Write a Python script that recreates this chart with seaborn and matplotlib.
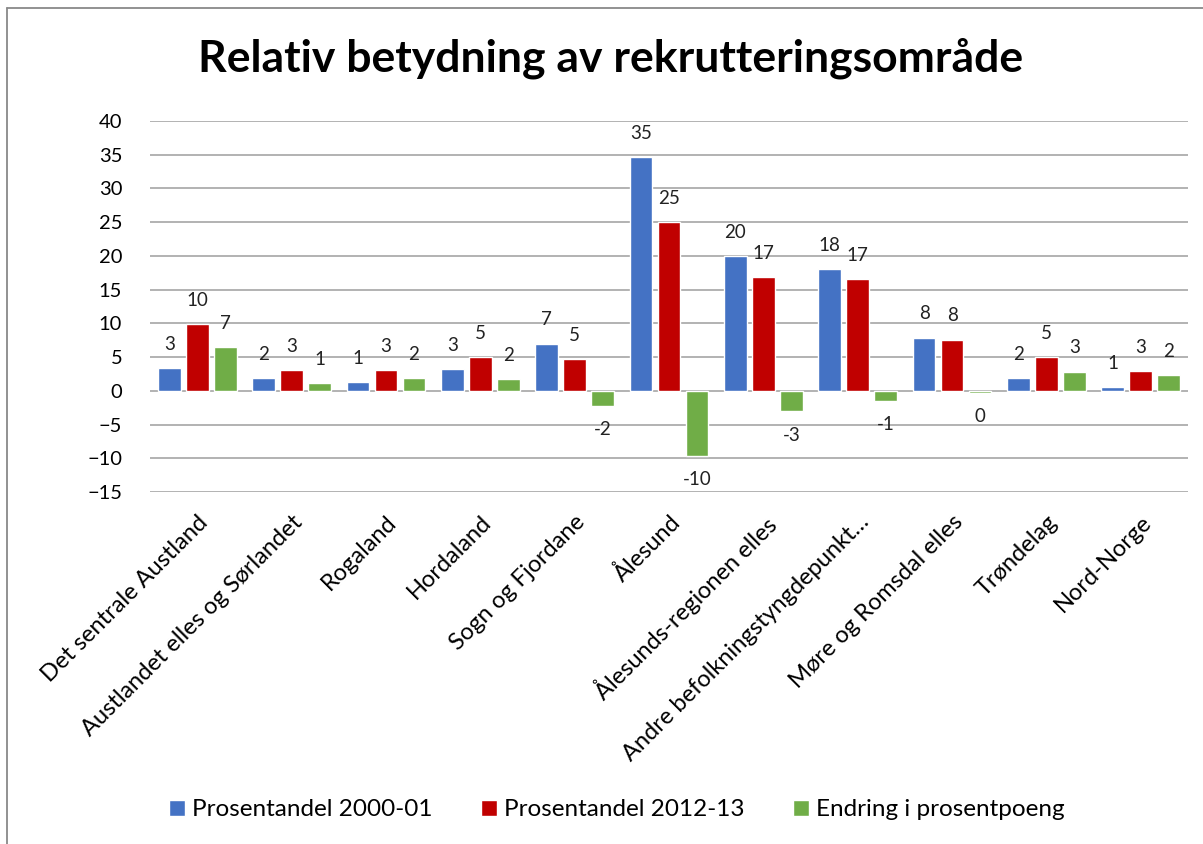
import numpy as np
import pandas as pd
import matplotlib
matplotlib.use('Agg')
import matplotlib.pyplot as plt
import seaborn as sns
from matplotlib.lines import Line2D

# data
regions = ['Det sentrale Austland', 'Austlandet elles og Sørlandet', 'Rogaland',
           'Hordaland', 'Sogn og Fjordane', 'Ålesund', 'Ålesunds-regionen elles',
           'Andre befolkningstyngdepunkt…', 'Møre og Romsdal elles', 'Trøndelag',
           'Nord-Norge']
share_2000 = [3.4, 1.85, 1.25, 3.25, 7.0, 34.6, 19.95, 18.05, 7.9, 1.95, 0.55]
share_2012 = [9.95, 3.05, 3.1, 4.95, 4.7, 25.0, 16.9, 16.6, 7.6, 4.95, 2.95]
change = [6.5, 1.1, 1.85, 1.7, -2.25, -9.6, -3.05, -1.45, -0.35, 2.85, 2.4]
series = ['Prosentandel 2000-01', 'Prosentandel 2012-13', 'Endring i prosentpoeng']
colors = ['#4472C4', '#C00000', '#70AD47']

df = pd.DataFrame({'region': regions * 3,
                   'serie': np.repeat(series, len(regions)),
                   'verdi': share_2000 + share_2012 + change})

sns.set_theme(style='white')
plt.rcParams['font.family'] = ['Lato', 'DejaVu Sans']
plt.rcParams['text.color'] = 'black'
plt.rcParams['xtick.color'] = 'black'
plt.rcParams['ytick.color'] = 'black'

fig = plt.figure(figsize=(12.03, 8.44), dpi=100)
ax = fig.add_axes([150/1203, 1 - 492/844, 1038/1203, 371/844])

sns.barplot(data=df, x='region', y='verdi', hue='serie', palette=colors,
            width=0.89, gap=0.19, ax=ax, saturation=1, legend=True)

ax.set_ylim(-15, 40)
ax.set_yticks(range(-15, 41, 5))
ax.set_xlim(-0.5, len(regions) - 0.5)
ax.yaxis.grid(True, color='#A6A6A6', linewidth=1.2)
ax.set_axisbelow(True)
for s in ax.spines.values():
    s.set_visible(False)
ax.set_xlabel('')
ax.set_ylabel('')
ax.tick_params(axis='y', labelsize=14.5, pad=20, length=0)
ax.tick_params(axis='x', labelsize=17, pad=14, length=0)
plt.setp(ax.get_xticklabels(), rotation=45, ha='right', va='top',
         rotation_mode='anchor')

# data labels, Excel style rounding
for cont in ax.containers:
    for bar in cont:
        v = bar.get_y() + bar.get_height() if bar.get_y() >= 0 else bar.get_y()
        txt = str(int(np.floor(abs(v) + 0.5)))
        if v < 0 and txt != '0':
            txt = '-' + txt
        off = 17 if v >= 0 else -17
        ax.annotate(txt, (bar.get_x() + bar.get_width() / 2, v),
                    xytext=(0, off), textcoords='offset points',
                    ha='center', va='center', fontsize=13.5, color='#222222')

leg = ax.legend(loc='center', bbox_to_anchor=(617 / 1203, 1 - 810 / 844),
                bbox_transform=fig.transFigure, ncol=3, frameon=False,
                fontsize=17.5, handlelength=0.65, handleheight=0.65,
                handletextpad=0.3, columnspacing=2.0)

fig.text(611/1203, 1 - 58/844, 'Relativ betydning av rekrutteringsområde',
         ha='center', va='center', fontsize=32, fontweight='bold')

# chart area border (only left and top edges fall inside the picture)
fig.add_artist(Line2D([7/1203, 7/1203], [0, 1 - 8/844], transform=fig.transFigure,
                      color='#898989', linewidth=1.3))
fig.add_artist(Line2D([7/1203, 1], [1 - 8/844, 1 - 8/844], transform=fig.transFigure,
                      color='#898989', linewidth=1.3))

fig.savefig('out.png', dpi=100)
